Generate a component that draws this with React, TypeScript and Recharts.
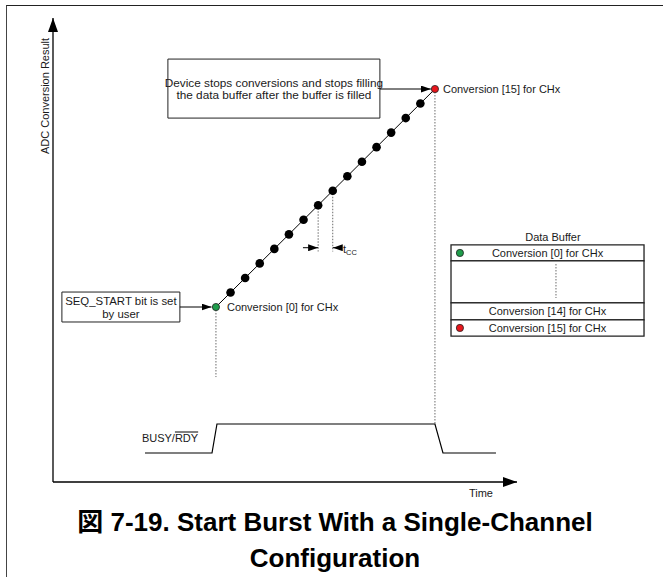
import React from "react";
import {
  ComposedChart,
  Line,
  XAxis,
  YAxis,
  ReferenceArea,
  ReferenceLine,
  ReferenceDot,
} from "recharts";

// one sample per conversion period (t_CC), burst of 16 conversions
const conversionTime = [0, 1, 2, 3, 4, 5, 6, 7, 8, 9, 10, 11, 12, 13, 14, 15];
const adcResult = [0, 1, 2, 3, 4, 5, 6, 7, 8, 9, 10, 11, 12, 13, 14, 15];

// BUSY/RDY waveform (time in conversion periods, level 0 = low, 1 = high)
const busyTime = [-4.86, -0.27, 0.07, 15.0, 15.55, 19.18];
const busyLevel = [0, 0, 1, 1, 0, 0];

const bufferRows = [
  "Conversion [0] for CHx",
  "",
  "Conversion [14] for CHx",
  "Conversion [15] for CHx",
];

const FONT = '"Liberation Sans", Arial, Helvetica, sans-serif';
const INK = "#1a1a1a";

const conversionData = conversionTime.map((t, i) => ({ t, adc: adcResult[i] }));
const busyData = busyTime.map((t, i) => ({ t, busy: busyLevel[i] }));

const last = conversionTime.length - 1;

// row edges of the data buffer table, in ADC units
const rowEdges = [4.27, 3.17, 0.28, -0.89, -2.0];

const textBlock =
  (
    lines: string[],
    anchor: "start" | "middle" | "end" = "middle",
    dx = 0,
    lh = 12.5,
    size = 11
  ) =>
  (props: any) => {
    const vb = props.viewBox;
    const x =
      (anchor === "middle" ? vb.x + vb.width / 2 : anchor === "start" ? vb.x + vb.width : vb.x) + dx;
    const cy = vb.y + vb.height / 2;
    const top = cy - ((lines.length - 1) * lh) / 2;
    return (
      <text textAnchor={anchor} fontFamily={FONT} fontSize={size} fill={INK}>
        {lines.map((s, i) => (
          <tspan key={i} x={x} y={top + i * lh} dy="0.36em">
            {s}
          </tspan>
        ))}
      </text>
    );
  };

const renderDot = (props: any) => {
  const { cx, cy, index } = props;
  const edge = index === 0 || index === last;
  const fill = index === 0 ? "#1e9c4a" : index === last ? "#e8161c" : "#000";
  return (
    <circle
      key={`dot-${index}`}
      cx={cx}
      cy={cy}
      r={edge ? 3.6 : 4.3}
      fill={fill}
      stroke={edge ? "#222" : "none"}
      strokeWidth={edge ? 0.8 : 0}
    />
  );
};

const yLabel = (props: any) => {
  const vb = props.viewBox;
  const x = vb.x + vb.width - 8;
  const y = vb.y + 78;
  return (
    <text
      x={x}
      y={y}
      transform={`rotate(-90 ${x} ${y})`}
      textAnchor="middle"
      dy="0.36em"
      fontFamily={FONT}
      fontSize={11}
      fill={INK}
    >
      ADC Conversion Result
    </text>
  );
};

const xLabel = (props: any) => {
  const vb = props.viewBox;
  return (
    <text
      x={vb.x + vb.width - 24}
      y={vb.y + 11}
      dy="0.36em"
      textAnchor="end"
      fontFamily={FONT}
      fontSize={11}
      fill={INK}
    >
      Time
    </text>
  );
};

const busyLabel = (props: any) => {
  const vb = props.viewBox;
  return (
    <text x={vb.x} y={vb.y} dy="0.36em" fontFamily={FONT} fontSize={11} fill={INK}>
      BUSY/
      <tspan style={{ textDecoration: "overline" }}>RDY</tspan>
    </text>
  );
};

const tccLabel = (props: any) => {
  const vb = props.viewBox;
  return (
    <text x={vb.x} y={vb.y} dy="0.36em" fontFamily={FONT} fontSize={11} fill={INK}>
      t
      <tspan fontSize={7.5} dy={2.5}>
        CC
      </tspan>
    </text>
  );
};

const dotted = { stroke: "#6b6b6b", strokeWidth: 1, strokeDasharray: "1.5 1.5" };

export default function App() {
  return (
    <div
      style={{
        position: "absolute",
        left: 0,
        top: 0,
        width: 663,
        height: 577,
        background: "#fff",
        overflow: "hidden",
      }}
    >
      <svg width={0} height={0} style={{ position: "absolute" }}>
        <defs>
          <marker
            id="axisArrow"
            viewBox="0 0 14 10"
            refX={14}
            refY={5}
            markerWidth={14}
            markerHeight={10}
            markerUnits="userSpaceOnUse"
            orient="auto-start-reverse"
          >
            <path d="M0,0 L14,5 L0,10 Z" fill="#000" />
          </marker>
          <marker
            id="noteArrow"
            viewBox="0 0 10 7"
            refX={10}
            refY={3.5}
            markerWidth={10}
            markerHeight={7}
            markerUnits="userSpaceOnUse"
            orient="auto"
          >
            <path d="M0,0 L10,3.5 L0,7 Z" fill="#000" />
          </marker>
        </defs>
      </svg>

      <div
        style={{
          position: "absolute",
          left: 6,
          top: 5,
          width: 700,
          height: 600,
          borderTop: "1.5px solid #222",
          borderLeft: "1.5px solid #444",
        }}
      />

      <div style={{ position: "absolute", left: 0, top: 0 }}>
        <ComposedChart
          width={663}
          height={577}
          data={conversionData}
          margin={{ top: 18, right: 146, bottom: 65, left: 13 }}
        >
          <XAxis
            dataKey="t"
            type="number"
            domain={[-11.16, 20.62]}
            allowDataOverflow
            tick={false}
            tickLine={false}
            height={30}
            axisLine={{ stroke: "#000", strokeWidth: 1.3, markerEnd: "url(#axisArrow)" } as any}
            label={xLabel}
          />
          <YAxis
            yAxisId="adc"
            type="number"
            domain={[-12.04, 19.886]}
            allowDataOverflow
            tick={false}
            tickLine={false}
            width={40}
            axisLine={{ stroke: "#000", strokeWidth: 1.3, markerStart: "url(#axisArrow)" } as any}
            label={yLabel}
          />
          <YAxis yAxisId="busy" type="number" domain={[-1, 15]} allowDataOverflow hide />

          {/* annotation: device stops */}
          <ReferenceArea
            yAxisId="adc"
            x1={-3.29}
            x2={11.23}
            y1={13.0}
            y2={17.06}
            fill="#fff"
            fillOpacity={1}
            stroke="#222"
            strokeWidth={1}
            ifOverflow="visible"
            label={textBlock(
              [
                "Device stops conversions and stops filling",
                "the data buffer after the buffer is filled",
              ],
              "middle",
              0,
              12.5,
              11.8
            )}
          />
          <ReferenceLine
            yAxisId="adc"
            segment={[
              { x: 11.23, y: adcResult[last] },
              { x: 14.72, y: adcResult[last] },
            ]}
            stroke="#000"
            strokeWidth={1}
            ifOverflow="visible"
            {...({ markerEnd: "url(#noteArrow)" } as any)}
          />

          {/* annotation: SEQ_START */}
          <ReferenceArea
            yAxisId="adc"
            x1={-10.55}
            x2={-2.47}
            y1={-1.03}
            y2={1.03}
            fill="#fff"
            fillOpacity={1}
            stroke="#222"
            strokeWidth={1}
            ifOverflow="visible"
            label={textBlock(["SEQ_START bit is set", "by user"], "middle", 0, 13, 11.4)}
          />
          <ReferenceLine
            yAxisId="adc"
            segment={[
              { x: -2.47, y: adcResult[0] },
              { x: -0.3, y: adcResult[0] },
            ]}
            stroke="#000"
            strokeWidth={1}
            ifOverflow="visible"
            {...({ markerEnd: "url(#noteArrow)" } as any)}
          />

          {/* dotted guides */}
          <ReferenceLine
            yAxisId="adc"
            segment={[
              { x: conversionTime[0], y: adcResult[0] },
              { x: conversionTime[0], y: -4.82 },
            ]}
            {...dotted}
            ifOverflow="visible"
          />
          <ReferenceLine
            yAxisId="adc"
            segment={[
              { x: conversionTime[last], y: adcResult[last] },
              { x: conversionTime[last], y: -8.05 },
            ]}
            {...dotted}
            ifOverflow="visible"
          />
          <ReferenceLine
            yAxisId="adc"
            segment={[
              { x: conversionTime[7], y: adcResult[7] },
              { x: conversionTime[7], y: 3.82 },
            ]}
            {...dotted}
            ifOverflow="visible"
          />
          <ReferenceLine
            yAxisId="adc"
            segment={[
              { x: conversionTime[8], y: adcResult[8] },
              { x: conversionTime[8], y: 3.82 },
            ]}
            {...dotted}
            ifOverflow="visible"
          />
          {/* t_CC arrows */}
          <ReferenceLine
            yAxisId="adc"
            segment={[
              { x: 5.96, y: 4.08 },
              { x: conversionTime[7], y: 4.08 },
            ]}
            stroke="#000"
            strokeWidth={1}
            ifOverflow="visible"
            {...({ markerEnd: "url(#noteArrow)" } as any)}
          />
          <ReferenceLine
            yAxisId="adc"
            segment={[
              { x: 8.63, y: 4.08 },
              { x: conversionTime[8], y: 4.08 },
            ]}
            stroke="#000"
            strokeWidth={1}
            ifOverflow="visible"
            {...({ markerEnd: "url(#noteArrow)" } as any)}
          />
          <ReferenceDot
            yAxisId="adc"
            x={8.7}
            y={4.0}
            r={0}
            stroke="none"
            ifOverflow="visible"
            label={tccLabel}
          />

          {/* data buffer table */}
          <ReferenceDot
            yAxisId="adc"
            x={23.08}
            y={4.82}
            r={0}
            stroke="none"
            ifOverflow="visible"
            label={textBlock(["Data Buffer"])}
          />
          {bufferRows.map((row, i) => (
            <ReferenceArea
              key={`row-${i}`}
              yAxisId="adc"
              x1={16.1}
              x2={29.32}
              y1={rowEdges[i + 1]}
              y2={rowEdges[i]}
              fill="#fff"
              fillOpacity={1}
              stroke="#222"
              strokeWidth={1.3}
              ifOverflow="visible"
              label={row ? textBlock([row]) : undefined}
            />
          ))}
          <ReferenceLine
            yAxisId="adc"
            segment={[
              { x: 23.29, y: 2.96 },
              { x: 23.29, y: 0.62 },
            ]}
            {...dotted}
            ifOverflow="visible"
          />
          <ReferenceDot
            yAxisId="adc"
            x={16.71}
            y={3.72}
            r={3.6}
            fill="#1e9c4a"
            stroke="#222"
            strokeWidth={0.8}
            ifOverflow="visible"
          />
          <ReferenceDot
            yAxisId="adc"
            x={16.71}
            y={-1.44}
            r={3.6}
            fill="#e8161c"
            stroke="#222"
            strokeWidth={0.8}
            ifOverflow="visible"
          />

          {/* BUSY/RDY */}
          <Line
            yAxisId="busy"
            data={busyData}
            dataKey="busy"
            type="linear"
            stroke="#000"
            strokeWidth={1.2}
            dot={false}
            activeDot={false}
            isAnimationActive={false}
          />
          <ReferenceDot
            yAxisId="busy"
            x={-5.07}
            y={0.5}
            r={0}
            stroke="none"
            ifOverflow="visible"
            label={busyLabel}
          />

          {/* conversion results */}
          <Line
            yAxisId="adc"
            dataKey="adc"
            type="linear"
            stroke="#000"
            strokeWidth={1}
            dot={renderDot}
            activeDot={false}
            isAnimationActive={false}
          />
          <ReferenceDot
            yAxisId="adc"
            x={conversionTime[0]}
            y={adcResult[0]}
            r={0}
            stroke="none"
            ifOverflow="visible"
            label={textBlock(["Conversion [0] for CHx"], "start", 11)}
          />
          <ReferenceDot
            yAxisId="adc"
            x={conversionTime[last]}
            y={adcResult[last]}
            r={0}
            stroke="none"
            ifOverflow="visible"
            label={textBlock(["Conversion [15] for CHx"], "start", 8)}
          />
        </ComposedChart>
      </div>

      <div
        style={{
          position: "absolute",
          left: 7,
          top: 504,
          width: 656,
          textAlign: "center",
          fontFamily: '"Liberation Sans", Arial, "Noto Sans CJK JP", sans-serif',
          fontWeight: "bold",
          fontSize: 26,
          lineHeight: "36px",
          color: "#000",
        }}
      >
        図 7-19. Start Burst With a Single-Channel
        <br />
        Configuration
      </div>
    </div>
  );
}
